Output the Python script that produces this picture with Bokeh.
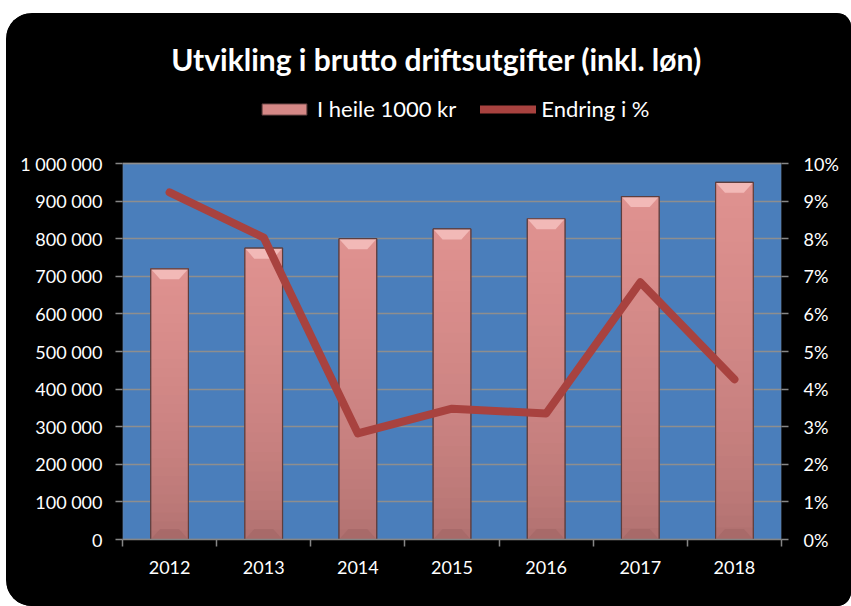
import numpy as np
from bokeh.plotting import figure
from bokeh.models import (Range1d, LinearAxis, FixedTicker, PrintfTickFormatter,
                          Legend, LegendItem, Label, BoxAnnotation, ColumnDataSource)
from bokeh.embed import file_html
from bokeh.resources import INLINE

# ---------------- data ----------------
years = ["2012", "2013", "2014", "2015", "2016", "2017", "2018"]
amount = [720000, 775000, 800000, 826000, 853000, 912000, 950000]   # I heile 1000 kr
change_pct = [9.23, 8.03, 2.82, 3.48, 3.35, 6.84, 4.26]              # Endring i %
left_ticks = list(range(0, 1_000_001, 100_000))
right_ticks = list(range(0, 11))
title_text = "Utvikling i brutto driftsutgifter (inkl. løn)"
bar_label = "I heile 1000 kr"
line_label = "Endring i %"

FONT = "Lato"
TXT = "white"
AX = "#868686"

# layout (pixels)
W, H = 845, 593
B_LEFT, B_RIGHT, B_BOTTOM = 116, 70, 67
FRAME_H = H - B_BOTTOM          # frame reaches the top of the canvas
PLOT_H = 376                    # height of the blue plot area
k = FRAME_H / PLOT_H

n = len(years)
xs = [i + 0.5 for i in range(n)]
ymax = left_ticks[-1]
pmax = right_ticks[-1]

p = figure(width=W, height=H, output_backend="svg", toolbar_location=None,
           title=None,
           x_range=Range1d(0, n), y_range=Range1d(0, ymax * k),
           min_border_left=B_LEFT, min_border_right=B_RIGHT,
           min_border_top=0, min_border_bottom=B_BOTTOM,
           background_fill_color="black", border_fill_color="black",
           outline_line_color=None)
p.styles = {"margin-top": "13px", "margin-left": "6px",
            "background-color": "black",
            "border-radius": "26px 14px 14px 26px", "overflow": "hidden"}

p.extra_y_ranges = {"pct": Range1d(0, pmax * k)}

# blue plot area (the frame extends up to hold title & legend);
# its border stands in for the vertical axis lines
p.add_layout(BoxAnnotation(bottom=0, top=ymax, fill_color="#4A7EBB",
                           fill_alpha=1, line_color=AX, line_width=2,
                           level="image"))

# grid
p.xgrid.visible = False
p.ygrid.grid_line_color = "#8E8E8E"
p.ygrid.grid_line_width = 1.5
p.ygrid.bounds = (0, ymax)


def style_axis(ax, standoff):
    ax.axis_line_color = AX
    ax.axis_line_width = 1.5
    ax.major_tick_line_color = AX
    ax.major_tick_line_width = 1.5
    ax.major_tick_out = 7
    ax.major_tick_in = 0
    ax.minor_tick_out = 0
    ax.minor_tick_in = 0
    ax.major_label_text_color = TXT
    ax.major_label_text_font = FONT
    ax.major_label_text_font_size = "18px"
    ax.major_label_standoff = standoff


# left axis
yl = p.yaxis[0]
yl.ticker = FixedTicker(ticks=left_ticks)
yl.major_label_overrides = {t: f"{t:,}".replace(",", " ") for t in left_ticks}
yl.bounds = (0, ymax)
style_axis(yl, 13)
yl.axis_line_color = None

# right axis
yr = LinearAxis(y_range_name="pct", ticker=FixedTicker(ticks=right_ticks),
                formatter=PrintfTickFormatter(format="%d%%"), bounds=(0, pmax))
style_axis(yr, 15)
yr.axis_line_color = None
p.add_layout(yr, "right")

# bottom axis: labels at centres, ticks at category boundaries
xa = p.xaxis[0]
xa.ticker = FixedTicker(ticks=xs, minor_ticks=list(range(n + 1)))
xa.major_label_overrides = {x: y for x, y in zip(xs, years)}
style_axis(xa, 14)
xa.major_tick_out = 0
xa.minor_tick_out = 7
xa.minor_tick_line_color = AX
xa.minor_tick_line_width = 1.5

# ---------------- bars ----------------
bw = 0.4
src = ColumnDataSource(dict(x=xs, top=amount))
base = p.vbar(x="x", top="top", width=bw, source=src,
              fill_color="#D58886", line_color="#5E3E3E")

# vertical gradient made of slices
N = 30
bot_rgb = np.array([0xAD, 0x6E, 0x6D])
top_rgb = np.array([0xE0, 0x92, 0x90])
sx, sb, st, sc = [], [], [], []
for x, v in zip(xs, amount):
    for j in range(N):
        t = (j + 0.5) / N
        c = bot_rgb + (top_rgb - bot_rgb) * (t ** 0.6)
        sx.append(x)
        sb.append(v * j / N)
        st.append(min(v, v * (j + 1) / N + v * 0.004))
        sc.append("#%02x%02x%02x" % tuple(int(round(q)) for q in c))
p.vbar(x=sx, bottom=sb, top=st, width=bw, fill_color=sc, line_color=None)

# bevels
bh = 0.028 * ymax
ix = 0.1
tx, ty, bx, by = [], [], [], []
for x, v in zip(xs, amount):
    tx.append([x - bw / 2, x + bw / 2, x + bw / 2 - ix, x - bw / 2 + ix])
    ty.append([v, v, v - bh, v - bh])
    bx.append([x - bw / 2, x + bw / 2, x + bw / 2 - ix, x - bw / 2 + ix])
    by.append([0, 0, bh, bh])
p.patches(tx, ty, fill_color="#F2B9B7", line_color=None)
p.patches(bx, by, fill_color="#9E6261", fill_alpha=0.45, line_color=None)
p.vbar(x="x", top="top", width=bw, source=src, fill_alpha=0,
       line_color="#5E3E3E", line_width=1.2)

# ---------------- line ----------------
lsrc = ColumnDataSource(dict(x=xs, pct=change_pct))
line_r = p.line(x="x", y="pct", source=lsrc, y_range_name="pct",
                line_color="#A8423F", line_width=8,
                line_cap="round", line_join="round")

# ---------------- legend ----------------
legend = Legend(items=[LegendItem(label=bar_label, renderers=[base]),
                       LegendItem(label=line_label, renderers=[line_r])],
                location=(134, 417), orientation="horizontal",
                label_text_color=TXT, label_text_font=FONT,
                label_text_font_size="22px",
                glyph_width=56, glyph_height=14, label_standoff=5,
                spacing=24, padding=0, margin=0,
                border_line_alpha=0, background_fill_alpha=0)
p.add_layout(legend)

# ---------------- title ----------------
title = Label(x=3.335, y=ymax * 1.2766, text=title_text,
              text_align="center", text_baseline="middle",
              text_color=TXT, text_font=FONT, text_font_size="30px",
              text_font_style="bold")
p.add_layout(title)

open("out.html", "w").write(file_html(p, INLINE))
